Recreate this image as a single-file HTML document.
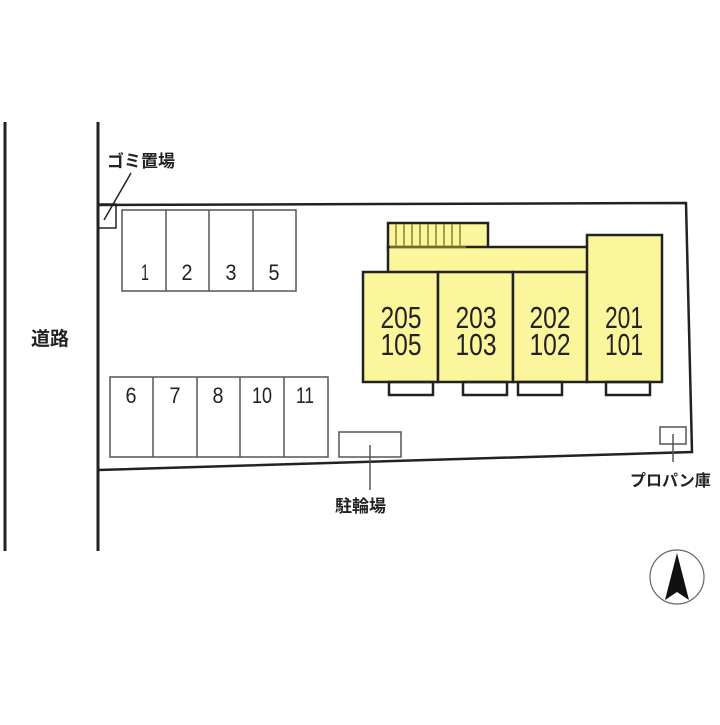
<!DOCTYPE html>
<html><head><meta charset="utf-8"><style>
body{margin:0;background:#fff;}
svg text{font-family:"Liberation Sans","Noto Sans CJK JP",sans-serif;fill:#222;}
</style></head><body>
<svg width="720" height="720" viewBox="0 0 720 720" xmlns="http://www.w3.org/2000/svg">
<g stroke="#222" fill="none">
<line x1="5" y1="122" x2="5" y2="551" stroke-width="3"/>
<line x1="98" y1="122" x2="98" y2="551" stroke-width="3"/>
<polyline points="98,205 686,203 692,452 98,470" stroke-width="2.5"/>
<rect x="98" y="204" width="18" height="24" stroke-width="1.5"/>
<line x1="131" y1="173" x2="104" y2="220" stroke-width="1.5"/>
<g stroke="#555" stroke-width="1.5">
<rect x="122" y="210" width="174" height="81"/>
<line x1="166" y1="210" x2="166" y2="291"/><line x1="209" y1="210" x2="209" y2="291"/><line x1="253" y1="210" x2="253" y2="291"/>
<rect x="110" y="377" width="218" height="80"/>
<line x1="153" y1="377" x2="153" y2="457"/><line x1="197" y1="377" x2="197" y2="457"/><line x1="240" y1="377" x2="240" y2="457"/><line x1="284" y1="377" x2="284" y2="457"/>
<rect x="339" y="432" width="62" height="25"/>
<line x1="370" y1="445" x2="370" y2="490"/>
<rect x="660" y="427" width="26" height="17"/>
<line x1="673" y1="434" x2="673" y2="462"/>
</g>
<g stroke-width="2.5" fill="#fbf59b">
<rect x="388" y="223" width="100" height="26"/>
<rect x="388" y="247" width="200" height="26"/>
<rect x="363" y="272" width="75" height="110"/>
<rect x="438" y="272" width="75" height="110"/>
<rect x="513" y="272" width="74" height="110"/>
<rect x="587" y="235" width="75" height="147"/>
</g>
<g stroke="#8a8430" stroke-width="1.5">
<line x1="390" y1="247" x2="466" y2="247"/>
<line x1="396" y1="224" x2="396" y2="246"/><line x1="404" y1="224" x2="404" y2="246"/><line x1="412" y1="224" x2="412" y2="246"/><line x1="420" y1="224" x2="420" y2="246"/><line x1="428" y1="224" x2="428" y2="246"/><line x1="436" y1="224" x2="436" y2="246"/><line x1="444" y1="224" x2="444" y2="246"/><line x1="452" y1="224" x2="452" y2="246"/><line x1="460" y1="224" x2="460" y2="246"/>
</g>
<g stroke-width="2.5">
<rect x="389" y="382" width="44" height="13"/>
<rect x="463" y="382" width="44" height="13"/>
<rect x="518" y="382" width="44" height="13"/>
<rect x="606" y="382" width="44" height="13"/>
</g>
<circle cx="677" cy="577" r="27" stroke="#666" stroke-width="1.2"/>
</g>
<path d="M677,553 L689,600 L677,592 L665,600 Z" fill="#111"/>
<g font-size="22" text-anchor="middle">
<text x="145" y="280" textLength="8" lengthAdjust="spacingAndGlyphs">1</text><text x="187" y="280" textLength="11" lengthAdjust="spacingAndGlyphs">2</text><text x="231" y="280" textLength="11" lengthAdjust="spacingAndGlyphs">3</text><text x="274" y="280" textLength="11" lengthAdjust="spacingAndGlyphs">5</text>
<text x="131" y="403" textLength="11" lengthAdjust="spacingAndGlyphs">6</text><text x="175" y="403" textLength="11" lengthAdjust="spacingAndGlyphs">7</text><text x="218" y="403" textLength="11" lengthAdjust="spacingAndGlyphs">8</text><text x="262" y="403" textLength="20" lengthAdjust="spacingAndGlyphs">10</text><text x="305" y="403" textLength="18" lengthAdjust="spacingAndGlyphs">11</text>
</g>
<g font-size="31" text-anchor="middle">
<text x="401" y="328" textLength="41" lengthAdjust="spacingAndGlyphs">205</text><text x="401" y="355" textLength="41" lengthAdjust="spacingAndGlyphs">105</text>
<text x="476" y="328" textLength="41" lengthAdjust="spacingAndGlyphs">203</text><text x="476" y="355" textLength="41" lengthAdjust="spacingAndGlyphs">103</text>
<text x="550" y="328" textLength="41" lengthAdjust="spacingAndGlyphs">202</text><text x="550" y="355" textLength="41" lengthAdjust="spacingAndGlyphs">102</text>
<text x="624" y="328" textLength="38" lengthAdjust="spacingAndGlyphs">201</text><text x="624" y="355" textLength="38" lengthAdjust="spacingAndGlyphs">101</text>
</g>
<g font-size="17" font-weight="bold">
<text x="107" y="167">ゴミ置場</text>
<text x="31" y="345" font-size="19">道路</text>
<text x="335" y="512">駐輪場</text>
<text x="630" y="486" font-size="16">プロパン庫</text>
</g>
</svg>
</body></html>
